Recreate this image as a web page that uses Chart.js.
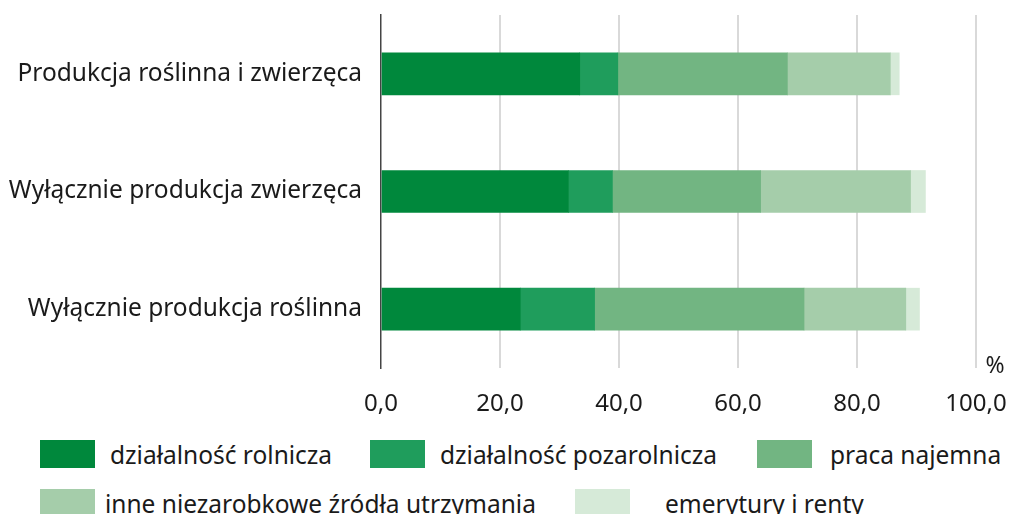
<!DOCTYPE html>
<html>
<head>
<meta charset="utf-8">
<script src="https://cdn.jsdelivr.net/npm/chart.js@4"></script>
<style>
  body { margin: 0; background: #fff; font-family: "Noto Sans", sans-serif; }
  #wrap { position: relative; width: 1011px; height: 514px; overflow: hidden; }
  #chartBox { position: absolute; left: 0; top: 0; width: 1011px; height: 430px; }
  .leg { position: absolute; display: flex; align-items: center; font-size: 24.5px; color: #1a1a1a; white-space: nowrap; height: 28px; }
  .leg span.box { display: inline-block; width: 55px; height: 28px; flex: none; }
</style>
</head>
<body>
<div id="wrap">
  <div id="chartBox"><canvas id="myChart" width="1011" height="430"></canvas></div>
  <div id="legend"></div>
</div>
<script>
// Categories (top to bottom)
var categories = ['Produkcja roślinna i zwierzęca', 'Wyłącznie produkcja zwierzęca', 'Wyłącznie produkcja roślinna'];

// Series values, %
var seriesNames = ['działalność rolnicza', 'działalność pozarolnicza', 'praca najemna', 'inne niezarobkowe źródła utrzymania', 'emerytury i renty'];
var rolnicza = [33.4, 31.5, 23.4];
var pozarolnicza = [6.4, 7.4, 12.5];
var najemna = [28.5, 24.9, 35.2];
var inne = [17.3, 25.2, 17.1];
var emerytury = [1.5, 2.5, 2.3];

var colors = ['#00883c', '#1f9d5c', '#72b582', '#a5cdaa', '#d6ead8'];
var xTicks = [0, 20, 40, 60, 80, 100];

var values = [rolnicza, pozarolnicza, najemna, inne, emerytury];
var datasets = [];
for (var i = 0; i < values.length; i++) {
  datasets.push({
    label: seriesNames[i],
    data: values[i],
    backgroundColor: colors[i],
    borderWidth: 0,
    barThickness: 42
  });
}

// "%" unit label near the right end of the x axis
var unitPlugin = {
  id: 'unitLabel',
  afterDraw: function(chart) {
    var ctx = chart.ctx;
    var x = chart.scales.x.getPixelForValue(100);
    ctx.save();
    ctx.font = '23px "Noto Sans"';
    ctx.fillStyle = '#1a1a1a';
    ctx.textAlign = 'center';
    ctx.textBaseline = 'middle';
    ctx.fillText('%', x + 19, chart.chartArea.bottom - 2);
    ctx.restore();
  }
};

var ctx = document.getElementById('myChart').getContext('2d');
window.myChart = new Chart(ctx, {
  type: 'bar',
  data: { labels: categories, datasets: datasets },
  plugins: [unitPlugin],
  options: {
    indexAxis: 'y',
    responsive: false,
    animation: false,
    layout: { padding: { top: 15, right: 35, left: 0, bottom: 0 } },
    plugins: { legend: { display: false }, tooltip: { enabled: false } },
    scales: {
      x: {
        stacked: true,
        min: 0,
        max: 100,
        afterBuildTicks: function(scale) {
          scale.ticks = xTicks.map(function(v) { return { value: v }; });
        },
        afterFit: function(scale) {
          scale.height = 62;
          scale.paddingLeft = 0;
          scale.paddingRight = 0;
        },
        grid: {
          drawTicks: false,
          lineWidth: 2,
          color: function(c) { return c.tick && c.tick.value === 0 ? 'rgba(0,0,0,0)' : '#d9d9d9'; }
        },
        border: { display: false },
        ticks: {
          padding: 22,
          color: '#1a1a1a',
          font: { family: 'Noto Sans', size: 24 },
          callback: function(v) { return v.toFixed(1).replace('.', ','); }
        }
      },
      y: {
        stacked: true,
        afterFit: function(scale) {
          scale.width = 381;
          scale.paddingTop = 0;
          scale.paddingBottom = 0;
        },
        grid: { display: false, drawTicks: false },
        border: { display: true, color: '#444', width: 1.5 },
        ticks: {
          padding: 19,
          color: '#1a1a1a',
          font: { family: 'Noto Sans', size: 24.5 }
        }
      }
    }
  }
});

// Legend laid out in two rows, like the reference
var legendPos = [
  { left: 40, top: 440, gap: 15 },
  { left: 370, top: 440, gap: 15 },
  { left: 757, top: 440, gap: 18 },
  { left: 40, top: 489, gap: 10 },
  { left: 575, top: 489, gap: 35 }
];
var legend = document.getElementById('legend');
for (var j = 0; j < seriesNames.length; j++) {
  var item = document.createElement('div');
  item.className = 'leg';
  item.style.left = legendPos[j].left + 'px';
  item.style.top = legendPos[j].top + 'px';
  item.innerHTML = '<span class="box" style="background:' + colors[j] + ';margin-right:' + legendPos[j].gap + 'px"></span>' + seriesNames[j];
  legend.appendChild(item);
}
</script>
</body>
</html>
